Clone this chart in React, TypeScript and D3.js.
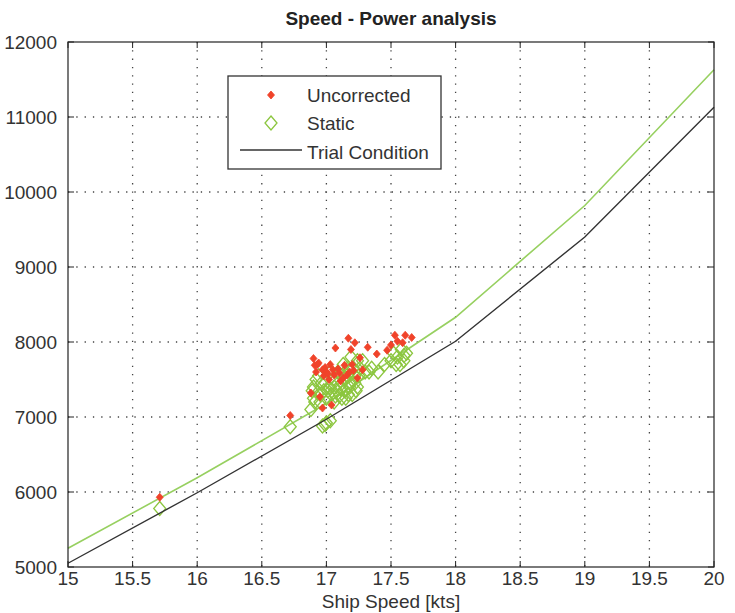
import React, { useEffect, useRef } from 'react';
import * as d3 from 'd3';

// axis ticks
const speedTicks = [15, 15.5, 16, 16.5, 17, 17.5, 18, 18.5, 19, 19.5, 20];
const powerTicks = [5000, 6000, 7000, 8000, 9000, 10000, 11000, 12000];

// curves (read at whole knots)
const curveSpeed = [15, 16, 17, 18, 19, 20];
const trialPower = [5050, 5990, 6970, 8010, 9400, 11130];
const staticCurvePower = [5250, 6190, 7180, 8330, 9820, 11630];

// measured points, uncorrected
const uncorrectedSpeed = [15.71, 16.72, 16.88, 16.9, 16.91, 16.92, 16.93, 16.94, 16.95, 16.97, 16.97, 16.98, 16.99, 17.0, 17.01, 17.02, 17.03, 17.04, 17.05, 17.06, 17.07, 17.09, 17.1, 17.11, 17.13, 17.14, 17.16, 17.17, 17.18, 17.19, 17.2, 17.21, 17.22, 17.24, 17.26, 17.28, 17.32, 17.39, 17.47, 17.5, 17.53, 17.55, 17.59, 17.61, 17.66];
const uncorrectedPower = [5930, 7020, 7320, 7780, 7690, 7600, 7700, 7720, 7270, 7630, 7120, 7550, 7660, 7600, 7580, 7500, 7700, 7160, 7630, 7560, 7920, 7640, 7590, 7480, 7520, 7690, 7560, 8050, 7600, 7900, 7700, 7620, 7990, 7520, 7790, 7630, 7930, 7840, 7890, 7960, 8090, 8010, 7990, 8090, 8060];

// measured points, static correction
const staticSpeed = [15.71, 16.72, 16.88, 16.89, 16.9, 16.9, 16.91, 16.92, 16.93, 16.94, 16.95, 16.96, 16.96, 16.97, 16.98, 16.99, 16.99, 17.0, 17.0, 17.01, 17.02, 17.03, 17.03, 17.04, 17.05, 17.06, 17.06, 17.07, 17.08, 17.09, 17.09, 17.1, 17.11, 17.12, 17.12, 17.13, 17.14, 17.14, 17.15, 17.16, 17.17, 17.17, 17.18, 17.19, 17.19, 17.2, 17.21, 17.22, 17.22, 17.23, 17.24, 17.24, 17.25, 17.26, 17.28, 17.3, 17.33, 17.35, 17.4, 17.45, 17.5, 17.52, 17.54, 17.55, 17.57, 17.58, 17.6, 17.6, 17.62];
const staticPower = [5780, 6870, 7100, 7350, 7250, 7400, 7200, 7500, 7320, 7550, 7200, 7450, 7300, 6880, 7350, 7450, 6900, 7250, 6920, 7350, 7400, 6950, 7600, 7300, 7500, 7200, 7400, 7280, 7350, 7600, 7450, 7280, 7380, 7450, 7250, 7700, 7350, 7500, 7250, 7550, 7300, 7650, 7400, 7800, 7450, 7300, 7650, 7450, 7550, 7350, 7750, 7400, 7550, 7650, 7750, 7600, 7600, 7650, 7600, 7700, 7750, 7850, 7700, 7800, 7700, 7900, 7750, 7820, 7850];

const legendItems = ['Uncorrected', 'Static', 'Trial Condition'];

const FONT = '"Liberation Sans", Arial, sans-serif';
const RED = '#f0432a';
const GREEN = '#8cc63f';
const GREEN_LINE = '#97d060';
const DARK = '#333333';

function App() {
    const ref = useRef(null);

    useEffect(() => {
        document.body.style.margin = '0';
        const width = 735, height = 613;
        const margin = { top: 42, left: 68, right: 21, bottom: 46 };
        const w = width - margin.left - margin.right;
        const h = height - margin.top - margin.bottom;

        d3.select(ref.current).selectAll('*').remove();
        const svg = d3.select(ref.current).append('svg')
            .attr('width', width)
            .attr('height', height)
            .style('display', 'block')
            .style('background', '#fff');

        const x = d3.scaleLinear().domain([15, 20]).range([0, w]);
        const y = d3.scaleLinear().domain([5000, 12000]).range([h, 0]);

        const g = svg.append('g').attr('transform', 'translate(' + margin.left + ',' + margin.top + ')');

        // dotted grid
        g.append('g').selectAll('line.vgrid')
            .data(speedTicks.slice(1, -1))
            .enter().append('line')
            .attr('x1', d => x(d)).attr('x2', d => x(d))
            .attr('y1', 0).attr('y2', h)
            .attr('stroke', '#444').attr('stroke-width', 1.3)
            .attr('stroke-dasharray', '1.3,7');
        g.append('g').selectAll('line.hgrid')
            .data(powerTicks.slice(1, -1))
            .enter().append('line')
            .attr('x1', 0).attr('x2', w)
            .attr('y1', d => y(d)).attr('y2', d => y(d))
            .attr('stroke', '#444').attr('stroke-width', 1.3)
            .attr('stroke-dasharray', '1.3,7');

        // curves
        const line = d3.line<number>()
            .x((d, i) => x(curveSpeed[i]))
            .y(d => y(d));

        g.append('path')
            .attr('d', line(staticCurvePower))
            .attr('fill', 'none')
            .attr('stroke', GREEN_LINE)
            .attr('stroke-width', 1.6);

        // static diamonds
        const diamond = (cx, cy) => 'M' + cx + ',' + (cy - 7) + 'L' + (cx + 6) + ',' + cy + 'L' + cx + ',' + (cy + 7) + 'L' + (cx - 6) + ',' + cy + 'Z';
        g.append('g').selectAll('path')
            .data(staticSpeed)
            .enter().append('path')
            .attr('d', (d, i) => diamond(x(d), y(staticPower[i])))
            .attr('fill', 'none')
            .attr('stroke', GREEN)
            .attr('stroke-width', 1.3);

        g.append('path')
            .attr('d', line(trialPower))
            .attr('fill', 'none')
            .attr('stroke', DARK)
            .attr('stroke-width', 1.4);

        // uncorrected dots
        const dot = (cx, cy) => 'M' + cx + ',' + (cy - 4) + 'L' + (cx + 3.5) + ',' + cy + 'L' + cx + ',' + (cy + 4) + 'L' + (cx - 3.5) + ',' + cy + 'Z';
        g.append('g').selectAll('path')
            .data(uncorrectedSpeed)
            .enter().append('path')
            .attr('d', (d, i) => dot(x(d), y(uncorrectedPower[i])))
            .attr('fill', RED)
            .attr('stroke', RED)
            .attr('stroke-width', 0.8);

        // frame and ticks
        g.append('rect')
            .attr('width', w).attr('height', h)
            .attr('fill', 'none').attr('stroke', '#222').attr('stroke-width', 1.2);

        const tickLen = 6;
        speedTicks.forEach(d => {
            g.append('line').attr('x1', x(d)).attr('x2', x(d)).attr('y1', h).attr('y2', h - tickLen).attr('stroke', '#222');
            g.append('line').attr('x1', x(d)).attr('x2', x(d)).attr('y1', 0).attr('y2', tickLen).attr('stroke', '#222');
            g.append('text')
                .attr('x', x(d)).attr('y', h + 18)
                .attr('text-anchor', 'middle')
                .attr('font-family', FONT).attr('font-size', 19)
                .attr('fill', '#333')
                .text(d);
        });
        powerTicks.forEach(d => {
            g.append('line').attr('x1', 0).attr('x2', tickLen).attr('y1', y(d)).attr('y2', y(d)).attr('stroke', '#222');
            g.append('line').attr('x1', w).attr('x2', w - tickLen).attr('y1', y(d)).attr('y2', y(d)).attr('stroke', '#222');
            g.append('text')
                .attr('x', -11).attr('y', y(d))
                .attr('dy', '0.36em')
                .attr('text-anchor', 'end')
                .attr('font-family', FONT).attr('font-size', 19)
                .attr('fill', '#333')
                .text(d);
        });

        // title and label
        svg.append('text')
            .attr('x', margin.left + w / 2).attr('y', 25)
            .attr('text-anchor', 'middle')
            .attr('font-family', FONT).attr('font-size', 19).attr('font-weight', 'bold')
            .attr('fill', '#222')
            .text('Speed - Power analysis');

        svg.append('text')
            .attr('x', margin.left + w / 2).attr('y', 608)
            .attr('text-anchor', 'middle')
            .attr('font-family', FONT).attr('font-size', 19)
            .attr('fill', '#333')
            .text('Ship Speed [kts]');

        // legend
        const legend = svg.append('g').attr('transform', 'translate(228,76)');
        legend.append('rect')
            .attr('width', 213).attr('height', 93)
            .attr('fill', '#fff').attr('stroke', '#333').attr('stroke-width', 1.3);
        legendItems.forEach((d, i) => {
            legend.append('text')
                .attr('x', 79).attr('y', 19 + i * 28.5)
                .attr('dy', '0.36em')
                .attr('font-family', FONT).attr('font-size', 19)
                .attr('fill', '#333')
                .text(d);
        });
        legend.append('path').attr('d', dot(43, 19)).attr('fill', RED).attr('stroke', RED).attr('stroke-width', 0.8);
        legend.append('path').attr('d', diamond(43, 47)).attr('fill', 'none').attr('stroke', GREEN).attr('stroke-width', 1.3);
        legend.append('line')
            .attr('x1', 12).attr('x2', 74)
            .attr('y1', 74).attr('y2', 74)
            .attr('stroke', DARK).attr('stroke-width', 1.4);
    }, []);

    return (
        <div ref={ref}></div>
    );
}

export default App;
